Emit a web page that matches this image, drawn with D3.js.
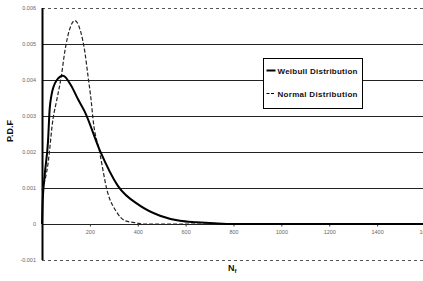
<!DOCTYPE html>
<html>
<head>
<meta charset="utf-8">
<script src="https://cdn.jsdelivr.net/npm/d3@7"></script>
<style>
  body { margin: 0; background: #fff; }
  text { font-family: "Liberation Sans", Arial, sans-serif; }
</style>
</head>
<body>
<div class="canvas"></div>
<script>
// values
const yTicks = [-0.001, 0, 0.001, 0.002, 0.003, 0.004, 0.005, 0.006];
const yTickLabels = ['-0.001', '0', '0.001', '0.002', '0.003', '0.004', '0.005', '0.006'];
const xTicks = [200, 400, 600, 800, 1000, 1200, 1400, 1600];

const weibullN = [0, 2, 11, 25, 32, 39, 60, 88, 122, 150, 178, 242, 317, 409, 493, 576, 646, 720, 800, 1600];
const weibullP = [0, 0.0005, 0.00134, 0.00228, 0.00319, 0.00356, 0.00398, 0.00412, 0.00384, 0.00347, 0.00313, 0.00204, 0.00106, 0.00051, 0.00023, 0.00009, 0.00005, 0.00002, 0, 0];

const normalN = [0, 25, 46, 60, 81, 95, 116, 137, 158, 179, 192, 206, 213, 241, 272, 312, 347, 396, 420, 1600];
const normalP = [0.00095, 0.00167, 0.00292, 0.00339, 0.00412, 0.00478, 0.00542, 0.00565, 0.00542, 0.00478, 0.00412, 0.00339, 0.00292, 0.00199, 0.00093, 0.00033, 0.00009, 0.00003, 0, 0];

const width = 423, height = 281;

const svg = d3.select('.canvas')
    .append('svg')
        .attr('width', width)
        .attr('height', height);

const x = d3.scaleLinear().domain([0, 1600]).range([42, 425]);
const y = d3.scaleLinear().domain([-0.001, 0.006]).range([260, 8]);

// horizontal grid lines, top and bottom are dashed
svg.append('g')
    .selectAll('line')
    .data(yTicks)
    .enter()
    .append('line')
        .attr('x1', x(0))
        .attr('x2', width)
        .attr('y1', d => Math.round(y(d)) + 0.5)
        .attr('y2', d => Math.round(y(d)) + 0.5)
        .attr('stroke', d => (d === 0.006 || d === -0.001) ? '#555' : '#222')
        .attr('stroke-width', 1)
        .attr('stroke-dasharray', d => (d === 0.006 || d === -0.001) ? '3,3' : null);

// y axis labels
svg.append('g')
    .selectAll('text')
    .data(yTicks)
    .enter()
    .append('text')
        .attr('x', 36)
        .attr('y', d => y(d) + 2)
        .attr('text-anchor', 'end')
        .attr('font-size', 5.5)
        .attr('fill', '#666')
        .text((d, i) => yTickLabels[i]);

// x axis along zero
const xAxis = d3.axisBottom(x)
    .tickValues(xTicks)
    .tickSize(2)
    .tickFormat(d3.format('d'));

const xGroup = svg.append('g')
    .attr('transform', `translate(0, ${Math.round(y(0)) + 0.5})`)
    .call(xAxis);
xGroup.select('.domain').remove();
xGroup.selectAll('line').attr('stroke', '#333');
xGroup.selectAll('text')
    .attr('font-size', 5.5)
    .attr('fill', '#666')
    .attr('dy', '0.9em')
    .style('font-family', '"Liberation Sans", Arial, sans-serif');

// y axis line
svg.append('line')
    .attr('x1', x(0) + 0.5)
    .attr('x2', x(0) + 0.5)
    .attr('y1', y(0.006))
    .attr('y2', y(-0.001))
    .attr('stroke', '#000')
    .attr('stroke-width', 2);

const line = d3.line()
    .x(d => x(d[0]))
    .y(d => y(d[1]))
    .curve(d3.curveMonotoneX);

svg.append('path')
    .datum(normalN.map((n, i) => [n, normalP[i]]))
    .attr('d', line)
    .attr('fill', 'none')
    .attr('stroke', '#222')
    .attr('stroke-width', 1.2)
    .attr('stroke-dasharray', '4,2');

svg.append('path')
    .datum(weibullN.map((n, i) => [n, weibullP[i]]))
    .attr('d', line)
    .attr('fill', 'none')
    .attr('stroke', '#000')
    .attr('stroke-width', 2);

// legend
const legend = svg.append('g').attr('transform', 'translate(263.5, 58.5)');
legend.append('rect')
    .attr('width', 99)
    .attr('height', 50)
    .attr('fill', '#fff')
    .attr('stroke', '#000')
    .attr('stroke-width', 1);

const legendItems = [
    {label: 'Weibull Distribution', dash: null, w: 2},
    {label: 'Normal Distribution', dash: '3,1.5', w: 1}
];
legendItems.forEach((item, i) => {
    const ly = 12 + i * 23;
    legend.append('line')
        .attr('x1', 3).attr('x2', 12)
        .attr('y1', ly).attr('y2', ly)
        .attr('stroke', '#000')
        .attr('stroke-width', item.w)
        .attr('stroke-dasharray', item.dash);
    legend.append('text')
        .attr('x', 14)
        .attr('y', ly + 3)
        .attr('font-size', 8)
        .attr('font-weight', 'bold')
        .attr('fill', '#111')
        .attr('textLength', 80)
        .text(item.label);
});

// axis titles
svg.append('text')
    .attr('transform', 'translate(13, 131) rotate(-90)')
    .attr('text-anchor', 'middle')
    .attr('font-size', 9)
    .attr('font-weight', 'bold')
    .attr('fill', '#111')
    .text('P.D.F');

const nf = svg.append('text')
    .attr('x', 228)
    .attr('y', 271)
    .attr('font-size', 9)
    .attr('font-weight', 'bold')
    .attr('fill', '#111');
nf.append('tspan').text('N');
nf.append('tspan').attr('font-size', 6).attr('dy', 2).text('f');
</script>
</body>
</html>
